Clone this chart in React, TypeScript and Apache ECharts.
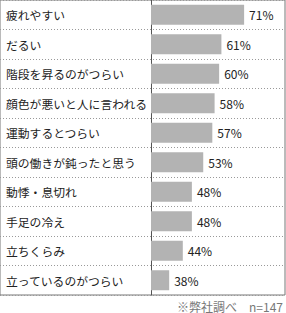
import React, { useEffect, useRef } from "react";
import * as echarts from "echarts";

const categories = [
  "疲れやすい",
  "だるい",
  "階段を昇るのがつらい",
  "顔色が悪いと人に言われる",
  "運動するとつらい",
  "頭の働きが鈍ったと思う",
  "動悸・息切れ",
  "手足の冷え",
  "立ちくらみ",
  "立っているのがつらい",
];
const values = [71, 61, 60, 58, 57, 53, 48, 48, 44, 38];
const footnote = "※弊社調べ　n=147";

const FONT = '"Noto Sans CJK JP", "Noto Sans", sans-serif';

export default function App() {
  const ref = useRef<HTMLDivElement>(null);
  useEffect(() => {
    if (!ref.current) return;
    const chart = echarts.init(ref.current, null, { renderer: "svg" });
    chart.setOption({
      animation: false,
      textStyle: { fontFamily: FONT },
      grid: [
        { left: 0, top: 0, right: 1, bottom: 18, show: true, borderColor: "#777", borderWidth: 1, containLabel: false },
        { left: 151, top: 0, right: 1, bottom: 18, containLabel: false },
      ],
      xAxis: [
        { type: "value", gridIndex: 0, show: false, min: 0, max: 1 },
        { type: "value", gridIndex: 1, show: false, min: 30, max: 89 },
      ],
      yAxis: [
        {
          type: "category",
          gridIndex: 0,
          data: categories,
          inverse: true,
          axisLine: { show: false },
          axisTick: { show: false },
          splitLine: { show: true, lineStyle: { type: [1, 2], color: "#999", width: 1 } },
          axisLabel: {
            inside: true,
            margin: 6,
            align: "left",
            color: "#222",
            fontSize: 11.8,
            fontFamily: FONT,
          },
        },
        {
          type: "category",
          gridIndex: 1,
          data: categories,
          inverse: true,
          axisLine: { show: true, lineStyle: { color: "#555", width: 1 } },
          axisTick: { show: false },
          axisLabel: { show: false },
          splitLine: { show: false },
        },
      ],
      series: [
        {
          type: "bar",
          xAxisIndex: 1,
          yAxisIndex: 1,
          data: values,
          barWidth: 20,
          itemStyle: { color: "#b3b3b3" },
          label: {
            show: true,
            position: "right",
            distance: 5,
            formatter: "{c}%",
            color: "#222",
            fontSize: 12,
            fontFamily: FONT,
          },
        },
      ],
      graphic: [
        {
          type: "text",
          right: 3,
          bottom: 1,
          style: { text: footnote, fill: "#777", fontSize: 12, fontFamily: FONT },
        },
      ],
    });
    return () => chart.dispose();
  }, []);
  return (
    <div
      ref={ref}
      style={{ position: "fixed", left: 0, top: 0, width: 286, height: 313, background: "#fff" }}
    />
  );
}
